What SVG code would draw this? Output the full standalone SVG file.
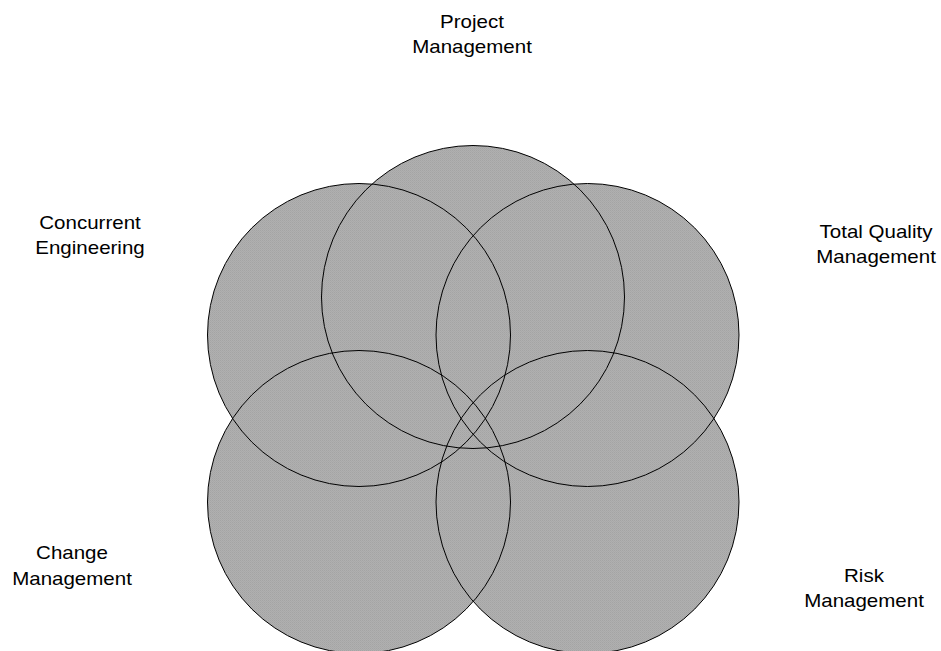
<svg xmlns="http://www.w3.org/2000/svg" width="941" height="651" viewBox="0 0 941 651">
<defs>
<pattern id="tex" width="2" height="2" patternUnits="userSpaceOnUse">
<rect width="2" height="2" fill="#b0b0b0"/>
<rect width="1" height="1" fill="#a4a4a4"/>
<rect x="1" y="1" width="1" height="1" fill="#a9a9a9"/>
</pattern>
</defs>
<style>
.fill{fill:url(#tex);stroke:none}
.outline{fill:none;stroke:#000;stroke-width:1}
.lbl{font-family:"Liberation Sans",Arial,sans-serif;font-size:18px;fill:#000;text-anchor:middle}
</style>
<rect width="941" height="651" fill="#fff"/>
<g id="project-management">
<circle class="fill" cx="473" cy="297" r="151.5"/>
<text class="lbl" transform="translate(472,28) scale(1.14,1)">Project</text>
<text class="lbl" transform="translate(472,53) scale(1.14,1)">Management</text>
</g>
<g id="concurrent-engineering">
<circle class="fill" cx="359" cy="335" r="151.5"/>
<text class="lbl" transform="translate(90,229) scale(1.14,1)">Concurrent</text>
<text class="lbl" transform="translate(90,254) scale(1.14,1)">Engineering</text>
</g>
<g id="total-quality-management">
<circle class="fill" cx="587.5" cy="335" r="151.5"/>
<text class="lbl" transform="translate(876,238) scale(1.14,1)">Total Quality</text>
<text class="lbl" transform="translate(876,263) scale(1.14,1)">Management</text>
</g>
<g id="change-management">
<circle class="fill" cx="359" cy="502" r="151.5"/>
<text class="lbl" transform="translate(72,559) scale(1.14,1)">Change</text>
<text class="lbl" transform="translate(72,585) scale(1.14,1)">Management</text>
</g>
<g id="risk-management">
<circle class="fill" cx="587.5" cy="502" r="151.5"/>
<text class="lbl" transform="translate(864,582) scale(1.14,1)">Risk</text>
<text class="lbl" transform="translate(864,607) scale(1.14,1)">Management</text>
</g>
<g id="connectors">
<circle class="outline" cx="473" cy="297" r="151.5"/>
<circle class="outline" cx="359" cy="335" r="151.5"/>
<circle class="outline" cx="587.5" cy="335" r="151.5"/>
<circle class="outline" cx="359" cy="502" r="151.5"/>
<circle class="outline" cx="587.5" cy="502" r="151.5"/>
</g>
</svg>
